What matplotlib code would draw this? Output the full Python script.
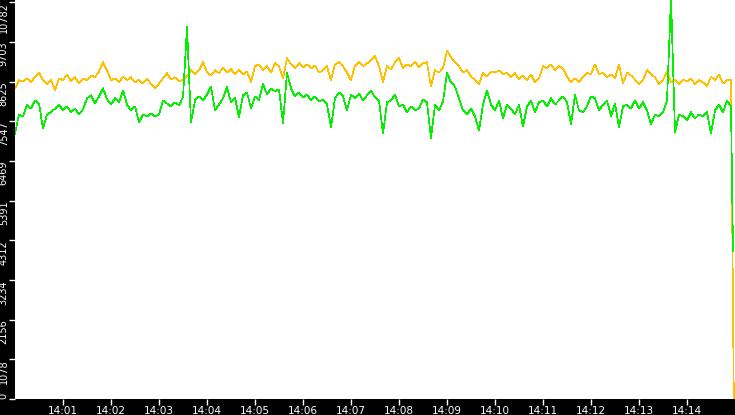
import datetime
import matplotlib
matplotlib.use("Agg")
import matplotlib.pyplot as plt
import matplotlib.dates as mdates

# samples every 5 seconds from 14:00:00
yellow = [8440, 8660, 8630, 8710, 8600, 8760, 8870, 8660, 8550, 8680,
          8380, 8710, 8660, 8820, 8630, 8740, 8570, 8710, 8660, 8790,
          8740, 8900, 9150, 8930, 8660, 8710, 8600, 8760, 8660, 8740,
          8600, 8680, 8570, 8710, 8550, 8440, 8570, 8710, 8850, 8680,
          8740, 8630, 8680, 8760, 8930, 8820, 8930, 9150, 8870, 8790,
          8930, 8850, 9010, 8870, 8960, 8820, 8930, 8820, 8900, 8600,
          9040, 9090, 8930, 9040, 8870, 9120, 9040, 8710, 9260, 9090,
          8980, 9120, 9010, 9090, 8980, 9060, 8870, 8930, 9040, 8660,
          9090, 9150, 9040, 8870, 8660, 9060, 9150, 9040, 9120, 9200,
          9310, 9040, 8600, 9040, 8960, 9150, 9260, 8980, 9090, 9040,
          9170, 9010, 9120, 9150, 8490, 8930, 8870, 8980, 9470, 9280,
          9150, 9040, 8870, 8930, 8760, 8660, 8550, 8870, 8760, 8900,
          8870, 8930, 8820, 8870, 8740, 8850, 8680, 8790, 8660, 8820,
          8600, 8710, 9040, 8980, 9090, 8930, 9040, 8980, 8760, 8600,
          8710, 8600, 8760, 8870, 8820, 9090, 8820, 8870, 8740, 8820,
          8710, 9090, 8570, 8870, 8790, 8680, 8550, 8660, 8930, 8820,
          8740, 8550, 8660, 8900, 8600, 8680, 8550, 8680, 8630, 8710,
          8550, 8660, 8600, 8490, 8760, 8660, 8820, 8570, 8660, 8680]

green = [7210, 7730, 7680, 8000, 7890, 8110, 8030, 7350, 7730, 7790,
         7890, 8000, 7840, 7950, 7790, 7890, 7730, 7870, 8170, 8250,
         8030, 8220, 8440, 8140, 8000, 8170, 8060, 8380, 8000, 7840,
         7950, 7510, 7730, 7680, 7760, 7680, 7730, 8110, 8030, 7950,
         8060, 7980, 8200, 10100, 7510, 8110, 8220, 8110, 8270, 8490,
         7840, 8000, 8170, 8470, 8060, 8190, 7650, 8250, 8330, 7890,
         8220, 8110, 8550, 8270, 8440, 8360, 8410, 7490, 8870, 8440,
         8220, 8330, 8190, 8270, 8110, 8220, 8080, 8140, 8000, 7380,
         8170, 8330, 8220, 7840, 8270, 8170, 8300, 8110, 8250, 8380,
         8190, 8110, 7210, 8060, 8110, 8270, 7950, 8000, 7790, 7950,
         7840, 7890, 8140, 8060, 7080, 8000, 7840, 8080, 8850, 8600,
         8490, 8170, 7840, 7730, 7890, 7680, 7300, 8000, 8380, 8000,
         7840, 8110, 7620, 8000, 7890, 7730, 8000, 7400, 7950, 8110,
         7790, 8060, 8110, 7950, 8170, 8000, 8110, 8220, 8060, 7460,
         8270, 7840, 7790, 7950, 8220, 8170, 7840, 8000, 8110, 7680,
         8030, 7380, 7950, 8000, 7890, 8110, 7890, 8060, 7840, 7460,
         7730, 7680, 7790, 8110, 10900, 7240, 7730, 7680, 7570, 7790,
         7620, 7730, 7680, 7790, 7210, 7840, 8000, 7790, 8110, 7950]

yellow_end = 0
green_end = 4030

start = datetime.datetime(2020, 1, 1, 14, 0, 0)
times = [start + datetime.timedelta(seconds=5 * i) for i in range(len(yellow))]
t_yellow = times + [start + datetime.timedelta(seconds=898.5)]
t_green = times + [start + datetime.timedelta(seconds=897.5)]

yticks = [0, 1078, 2156, 3234, 4312, 5391, 6469, 7547, 8625, 9703, 10782]
xticks = [start + datetime.timedelta(minutes=m) for m in range(1, 15)]

fig = plt.figure(figsize=(7.35, 4.15), dpi=100, facecolor='black')
ax = fig.add_axes([15 / 735, 16 / 415, 720 / 735, 399 / 415])
ax.set_facecolor('white')

ax.plot(t_yellow, yellow + [yellow_end], color='#ffc000', lw=0.5, antialiased=False)
ax.plot(t_green, green + [green_end], color='#00f000', lw=0.5, antialiased=False)

ax.set_xlim(start, start + datetime.timedelta(minutes=15))
ax.set_ylim(0, 10840)
ax.set_yticks(yticks)
ax.set_yticklabels([str(v) for v in yticks], rotation=90)
# labels hang below their tick, the bottom one sits above it
for i, lab in enumerate(ax.get_yticklabels()):
    lab.set_va('bottom' if i == 0 else 'top')
ax.set_xticks(xticks)
ax.xaxis.set_major_formatter(mdates.DateFormatter('%H:%M'))

ax.tick_params(colors='white', labelsize=7.5, length=4, width=1, pad=1)
ax.tick_params(axis='y', labelsize=7, pad=0.5)
for s in ax.spines.values():
    s.set_visible(False)

fig.savefig('out.png', dpi=100, facecolor='black')
